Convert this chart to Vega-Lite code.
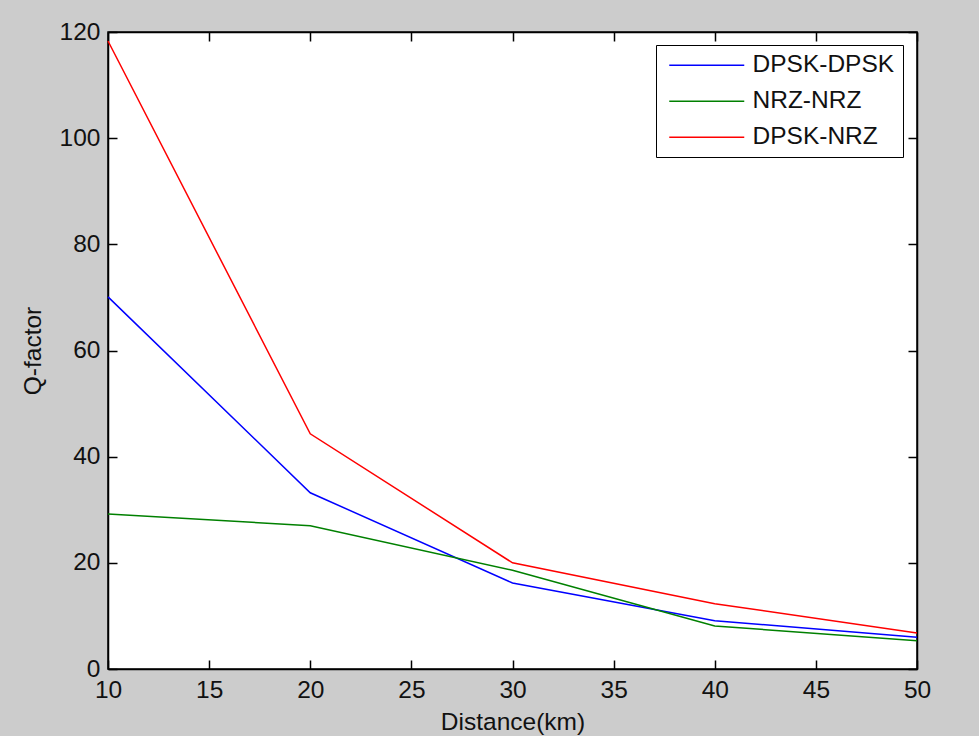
{
  "$schema": "https://vega.github.io/schema/vega-lite/v6.json",
  "width": 809,
  "height": 637,
  "autosize": {"type": "none"},
  "padding": {"left": 108, "top": 32, "right": 62, "bottom": 67},
  "background": "#cccccc",
  "config": {
    "view": {"fill": "white", "stroke": "black", "strokeWidth": 1.5},
    "font": "Liberation Sans",
    "axis": {
      "grid": false,
      "domainColor": "black",
      "domainWidth": 1.5,
      "tickColor": "black",
      "tickWidth": 1.5,
      "tickSize": -9,
      "labelFlush": false,
      "labelColor": "#111111",
      "labelFontSize": 24.5,
      "titleFontSize": 24.5,
      "titleFontWeight": "normal",
      "titleColor": "#111111"
    }
  },
  "data": {
    "values": [
      {"series": "DPSK-DPSK", "distance": 10, "q": 70.1},
      {"series": "DPSK-DPSK", "distance": 20, "q": 33.2},
      {"series": "DPSK-DPSK", "distance": 30, "q": 16.2},
      {"series": "DPSK-DPSK", "distance": 40, "q": 9.1},
      {"series": "DPSK-DPSK", "distance": 50, "q": 6.0},
      {"series": "NRZ-NRZ", "distance": 10, "q": 29.2},
      {"series": "NRZ-NRZ", "distance": 20, "q": 27.0},
      {"series": "NRZ-NRZ", "distance": 30, "q": 18.6},
      {"series": "NRZ-NRZ", "distance": 40, "q": 8.1},
      {"series": "NRZ-NRZ", "distance": 50, "q": 5.3},
      {"series": "DPSK-NRZ", "distance": 10, "q": 118.3},
      {"series": "DPSK-NRZ", "distance": 20, "q": 44.3},
      {"series": "DPSK-NRZ", "distance": 30, "q": 20.0},
      {"series": "DPSK-NRZ", "distance": 40, "q": 12.3},
      {"series": "DPSK-NRZ", "distance": 50, "q": 6.8}
    ]
  },
  "layer": [
    {
      "mark": {"type": "line", "strokeWidth": 1.5},
      "encoding": {
        "x": {
          "field": "distance",
          "type": "quantitative",
          "scale": {"domain": [10, 50], "nice": false, "zero": false},
          "axis": {
            "orient": "bottom",
            "values": [10, 15, 20, 25, 30, 35, 40, 45, 50],
            "labelPadding": 18,
            "title": "Distance(km)",
            "titlePadding": 9
          }
        },
        "y": {
          "field": "q",
          "type": "quantitative",
          "scale": {"domain": [0, 120], "nice": false},
          "axis": {
            "orient": "left",
            "values": [0, 20, 40, 60, 80, 100, 120],
            "labelPadding": 17,
            "title": "Q-factor",
            "titlePadding": 14
          }
        },
        "color": {
          "field": "series",
          "type": "nominal",
          "sort": ["DPSK-DPSK", "NRZ-NRZ", "DPSK-NRZ"],
          "scale": {
            "domain": ["DPSK-DPSK", "NRZ-NRZ", "DPSK-NRZ"],
            "range": ["#0000ff", "#008000", "#ff0000"]
          },
          "legend": {
            "title": null,
            "orient": "none",
            "legendX": 548,
            "legendY": 13,
            "strokeColor": "black",
            "fillColor": "white",
            "padding": 8,
            "symbolType": "M-7,0H68",
            "symbolSize": 4,
            "symbolStrokeWidth": 1.5,
            "labelFontSize": 24.5,
            "labelColor": "#111111",
            "labelOffset": 64,
            "rowPadding": 11
          }
        }
      }
    },
    {
      "mark": {"type": "line", "opacity": 0},
      "encoding": {
        "detail": {"field": "series", "type": "nominal"},
        "x": {
          "field": "distance",
          "type": "quantitative",
          "scale": {"domain": [10, 50], "nice": false, "zero": false},
          "axis": {"orient": "top", "values": [10, 15, 20, 25, 30, 35, 40, 45, 50], "labels": false, "title": null}
        },
        "y": {
          "field": "q",
          "type": "quantitative",
          "scale": {"domain": [0, 120], "nice": false},
          "axis": {"orient": "right", "values": [0, 20, 40, 60, 80, 100, 120], "labels": false, "title": null}
        }
      }
    }
  ],
  "resolve": {"axis": {"x": "independent", "y": "independent"}}
}
